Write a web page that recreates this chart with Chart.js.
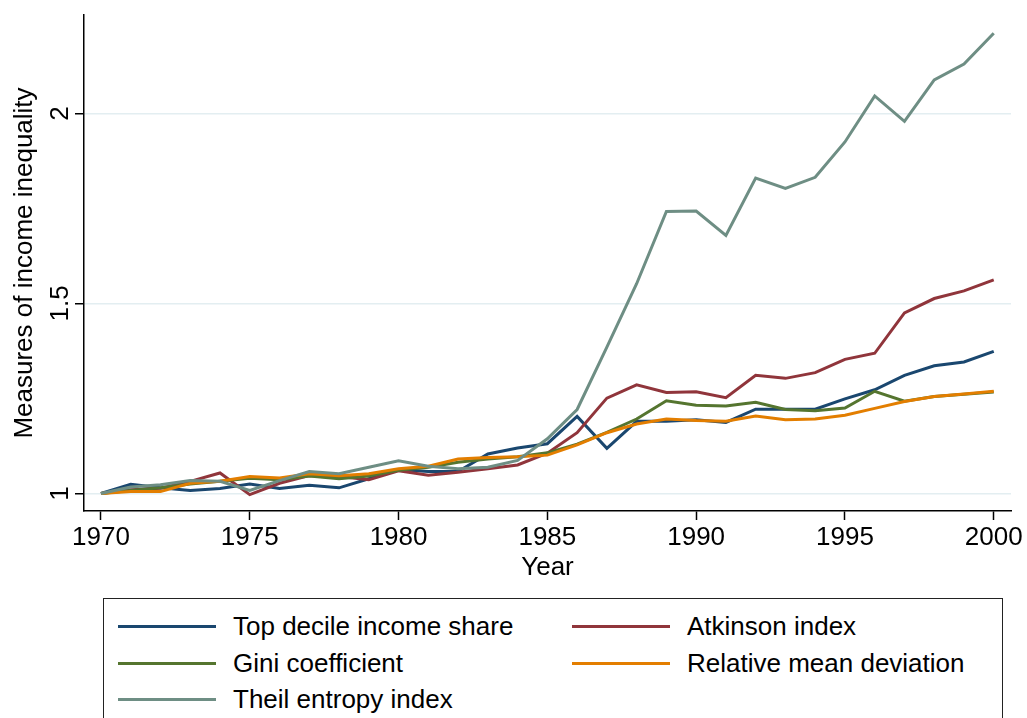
<!DOCTYPE html>
<html>
<head>
<meta charset="utf-8">
<title>Measures of income inequality, 1970–2000</title>
<script src="https://cdn.jsdelivr.net/npm/chart.js@4.4.1/dist/chart.umd.min.js"></script>
<style>
  html, body { margin: 0; padding: 0; background: #fff; }
  #wrap {
    position: relative; width: 1027px; height: 718px; overflow: hidden;
    font-family: "Liberation Sans", Arial, Helvetica, sans-serif;
  }
  #c { position: absolute; left: 0; top: 0; }
  #legend {
    position: absolute; left: 103px; top: 598px; width: 900px; height: 140px;
    border: 1.5px solid #222; box-sizing: border-box;
  }
  .item { position: absolute; height: 0; }
  .item .swatch { position: absolute; left: 0; top: -1.5px; width: 98px; height: 3px; }
  .item .lbl {
    position: absolute; left: 115px; top: -15px; font-size: 26px; line-height: 30px;
    white-space: nowrap; color: #000;
  }
</style>
</head>
<body>
<div id="wrap">
  <canvas id="c" width="1027" height="590"></canvas>
  <div id="legend"></div>
</div>
<script>
// Index values, 1970 = 1
const years = [1970, 1971, 1972, 1973, 1974, 1975, 1976, 1977, 1978, 1979,
               1980, 1981, 1982, 1983, 1984, 1985, 1986, 1987, 1988, 1989,
               1990, 1991, 1992, 1993, 1994, 1995, 1996, 1997, 1998, 1999, 2000];

const topDecileShare = [1.000, 1.024, 1.015, 1.008, 1.013, 1.025, 1.013, 1.022, 1.015, 1.039,
                        1.063, 1.058, 1.058, 1.104, 1.120, 1.131, 1.203, 1.119, 1.190, 1.190,
                        1.194, 1.187, 1.222, 1.222, 1.222, 1.249, 1.273, 1.311, 1.336, 1.346, 1.374];

const atkinsonIndex = [1.000, 1.010, 1.014, 1.032, 1.054, 0.997, 1.027, 1.047, 1.045, 1.036,
                       1.060, 1.048, 1.056, 1.065, 1.075, 1.106, 1.160, 1.251, 1.286, 1.266,
                       1.268, 1.252, 1.311, 1.303, 1.318, 1.353, 1.369, 1.475, 1.513, 1.533, 1.562];

const giniCoefficient = [1.000, 1.008, 1.015, 1.025, 1.032, 1.040, 1.036, 1.046, 1.039, 1.046,
                         1.061, 1.069, 1.082, 1.091, 1.097, 1.107, 1.130, 1.161, 1.196, 1.244,
                         1.232, 1.230, 1.240, 1.221, 1.218, 1.225, 1.269, 1.243, 1.255, 1.261, 1.267];

const relMeanDeviation = [1.000, 1.005, 1.005, 1.027, 1.032, 1.045, 1.041, 1.052, 1.047, 1.052,
                          1.065, 1.072, 1.091, 1.095, 1.097, 1.101, 1.128, 1.160, 1.183, 1.196,
                          1.192, 1.190, 1.204, 1.194, 1.196, 1.206, 1.224, 1.242, 1.255, 1.262, 1.269];

const theilIndex = [1.000, 1.017, 1.023, 1.034, 1.032, 1.008, 1.034, 1.058, 1.052, 1.069,
                    1.086, 1.072, 1.065, 1.069, 1.087, 1.144, 1.221, 1.385, 1.552, 1.742,
                    1.743, 1.679, 1.830, 1.803, 1.832, 1.925, 2.046, 1.979, 2.088, 2.130, 2.211];

const seriesNames = ["Top decile income share", "Atkinson index", "Gini coefficient",
                     "Relative mean deviation", "Theil entropy index"];
const seriesValues = [topDecileShare, atkinsonIndex, giniCoefficient, relMeanDeviation, theilIndex];
const seriesColors = ["#1a476f", "#90353b", "#55752f", "#e37e00", "#6e8e84"];

const xTicks = [1970, 1975, 1980, 1985, 1990, 1995, 2000];
const yTicks = [1, 1.5, 2];

const FONT = { family: '"Liberation Sans", Arial, Helvetica, sans-serif', size: 26 };
const INK = '#000';

const datasets = seriesNames.map((name, i) => ({
  label: name,
  data: years.map((yr, j) => ({ x: yr, y: seriesValues[i][j] })),
  borderColor: seriesColors[i],
  backgroundColor: seriesColors[i],
  borderWidth: 3,
  pointRadius: 0,
  tension: 0,
  fill: false,
  // later series are painted over earlier ones
  order: seriesNames.length - i
}));

new Chart(document.getElementById('c'), {
  type: 'line',
  data: { datasets },
  options: {
    responsive: false,
    animation: false,
    devicePixelRatio: 1,
    layout: { padding: { left: 0, top: 15, right: 16, bottom: 0 } },
    plugins: { legend: { display: false }, tooltip: { enabled: false } },
    scales: {
      x: {
        type: 'linear',
        min: 1969.43,
        max: 2000.58,
        afterBuildTicks: s => { s.ticks = xTicks.map(v => ({ value: v })); },
        afterFit: s => { s.height = 79; },
        ticks: {
          callback: v => String(v), font: FONT, color: INK,
          padding: 2, maxRotation: 0, minRotation: 0, autoSkip: false
        },
        grid: { drawOnChartArea: false, tickLength: 9, tickColor: INK, tickWidth: 1.5 },
        border: { color: INK, width: 1.5 },
        title: { display: true, text: 'Year', font: FONT, color: INK, padding: { top: 0, bottom: 7 } }
      },
      y: {
        type: 'linear',
        min: 0.954,
        max: 2.259,
        afterBuildTicks: s => { s.ticks = yTicks.map(v => ({ value: v })); },
        afterFit: s => { s.width = 84; },
        ticks: {
          callback: v => String(v), font: FONT, color: INK,
          minRotation: 90, maxRotation: 90, crossAlign: 'center', padding: -4
        },
        grid: { color: '#e3eef1', lineWidth: 1.5, tickLength: 9, tickColor: INK, tickWidth: 1.5 },
        border: { color: INK, width: 1.5 },
        title: { display: true, text: 'Measures of income inequality', font: FONT, color: INK, padding: { top: 9, bottom: 0 } }
      }
    }
  }
});

// Two-column boxed legend under the plot
const legendSlots = [[14, 27], [468, 27], [14, 64], [468, 64], [14, 100]];
const legendEl = document.getElementById('legend');
seriesNames.forEach((name, i) => {
  const item = document.createElement('div');
  item.className = 'item';
  item.style.left = legendSlots[i][0] + 'px';
  item.style.top = legendSlots[i][1] + 'px';
  const sw = document.createElement('span');
  sw.className = 'swatch';
  sw.style.background = seriesColors[i];
  const lbl = document.createElement('span');
  lbl.className = 'lbl';
  lbl.textContent = name;
  item.appendChild(sw);
  item.appendChild(lbl);
  legendEl.appendChild(item);
});
</script>
</body>
</html>
